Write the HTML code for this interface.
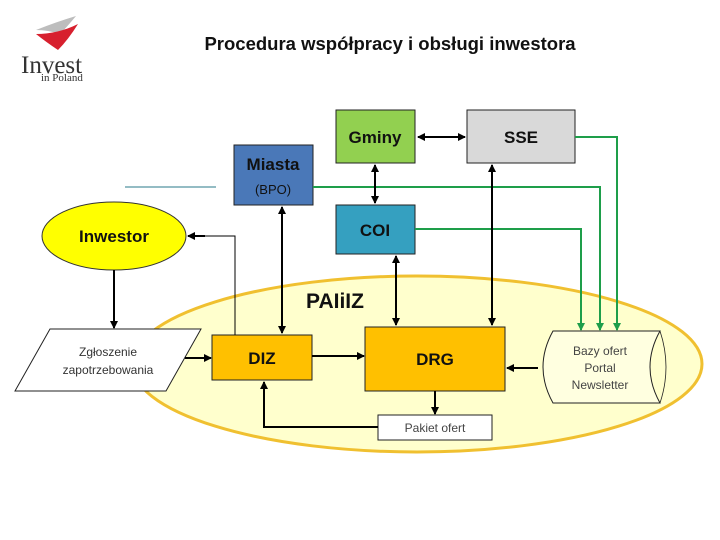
<!DOCTYPE html>
<html><head><meta charset="utf-8"><style>
body{margin:0;background:#fff;}
svg{display:block;font-family:"Liberation Sans",sans-serif;}
</style></head><body>
<svg width="720" height="540" viewBox="0 0 720 540" xmlns="http://www.w3.org/2000/svg">
<defs>
<marker id="a" markerWidth="8" markerHeight="8" refX="7" refY="4" orient="auto-start-reverse" markerUnits="userSpaceOnUse"><path d="M0,0 L8,4 L0,8 z" fill="#000"/></marker>
<marker id="g" markerWidth="8" markerHeight="8" refX="7" refY="4" orient="auto" markerUnits="userSpaceOnUse"><path d="M0,0 L8,4 L0,8 z" fill="#1e9e4a"/></marker>
</defs>
<!-- logo -->
<path d="M36,30 Q56,22 76,16 Q66,28 60,34 Q48,30 36,30z" fill="#bdbdbd"/>
<path d="M36,34 Q58,34 78,24 Q68,40 58,50 Q46,42 36,34z" fill="#d7202e"/>
<text x="21" y="73" font-family="Liberation Serif,serif" font-size="25" fill="#333">Invest</text>
<text x="41" y="81" font-family="Liberation Serif,serif" font-size="11" fill="#333">in Poland</text>
<text x="390" y="50" text-anchor="middle" font-size="18.5" font-weight="bold" fill="#111">Procedura współpracy i obsługi inwestora</text>
<!-- big ellipse -->
<ellipse cx="417" cy="364" rx="285" ry="88" fill="#ffffc4" fill-opacity="0.85" stroke="#f0c030" stroke-width="3"/>
<text x="335" y="308" text-anchor="middle" font-size="21" font-weight="bold" fill="#111">PAIiIZ</text>
<line x1="125" y1="187" x2="216" y2="187" stroke="#2a7a8a" stroke-width="1"/>
<rect x="234" y="145" width="79" height="60" fill="#4a78b8" stroke="#222"/>
<text x="273" y="170" text-anchor="middle" font-size="17" font-weight="bold" fill="#111">Miasta</text>
<text x="273" y="194" text-anchor="middle" font-size="13" fill="#111">(BPO)</text>
<rect x="336" y="110" width="79" height="53" fill="#92d050" stroke="#222"/>
<text x="375" y="143" text-anchor="middle" font-size="17" font-weight="bold" fill="#111">Gminy</text>
<rect x="467" y="110" width="108" height="53" fill="#d9d9d9" stroke="#222"/>
<text x="521" y="143" text-anchor="middle" font-size="17" font-weight="bold" fill="#111">SSE</text>
<rect x="336" y="205" width="79" height="49" fill="#35a0c0" stroke="#222"/>
<text x="375" y="236" text-anchor="middle" font-size="17" font-weight="bold" fill="#111">COI</text>
<ellipse cx="114" cy="236" rx="72" ry="34" fill="#ffff00" stroke="#333"/>
<text x="114" y="242" text-anchor="middle" font-size="17" font-weight="bold" fill="#111">Inwestor</text>
<polygon points="15,391 50,329 201,329 166,391" fill="#fff" stroke="#222"/>
<text x="108" y="356" text-anchor="middle" font-size="12" fill="#333">Zgłoszenie</text>
<text x="108" y="374" text-anchor="middle" font-size="12" fill="#333">zapotrzebowania</text>
<rect x="212" y="335" width="100" height="45" fill="#ffc000" stroke="#222"/>
<text x="262" y="364" text-anchor="middle" font-size="17" font-weight="bold" fill="#111">DIZ</text>
<rect x="365" y="327" width="140" height="64" fill="#ffc000" stroke="#222"/>
<text x="435" y="365" text-anchor="middle" font-size="17" font-weight="bold" fill="#111">DRG</text>
<rect x="378" y="415" width="114" height="25" fill="#fff" stroke="#222"/>
<text x="435" y="432" text-anchor="middle" font-size="12" fill="#444">Pakiet ofert</text>
<path d="M553,331 L660,331 Q640,367 660,403 L553,403 Q533,367 553,331z" fill="#ffffe0" stroke="#222"/>
<path d="M660,331 Q672,367 660,403" fill="none" stroke="#222" stroke-width="0.8"/>
<text x="600" y="355" text-anchor="middle" font-size="12" fill="#444">Bazy ofert</text>
<text x="600" y="372" text-anchor="middle" font-size="12" fill="#444">Portal</text>
<text x="600" y="389" text-anchor="middle" font-size="12" fill="#444">Newsletter</text>
<g stroke="#1e9e4a" stroke-width="2" fill="none">
<polyline points="575,137 617,137 617,330" marker-end="url(#g)"/>
<polyline points="313,187 600,187 600,330" marker-end="url(#g)"/>
<polyline points="415,229 581,229 581,330" marker-end="url(#g)"/>
</g>
<g stroke="#000" stroke-width="2" fill="none">
<line x1="418" y1="137" x2="465" y2="137" marker-start="url(#a)" marker-end="url(#a)"/>
<line x1="375" y1="165" x2="375" y2="203" marker-start="url(#a)" marker-end="url(#a)"/>
<line x1="492" y1="165" x2="492" y2="325" marker-start="url(#a)" marker-end="url(#a)"/>
<line x1="396" y1="256" x2="396" y2="325" marker-start="url(#a)" marker-end="url(#a)"/>
<line x1="282" y1="207" x2="282" y2="333" marker-start="url(#a)" marker-end="url(#a)"/>
<line x1="114" y1="270" x2="114" y2="328" marker-end="url(#a)"/>
<line x1="185" y1="358" x2="211" y2="358" marker-end="url(#a)"/>
<line x1="312" y1="356" x2="364" y2="356" marker-end="url(#a)"/>
<line x1="538" y1="368" x2="507" y2="368" marker-end="url(#a)"/>
<line x1="435" y1="391" x2="435" y2="414" marker-end="url(#a)"/>
<polyline points="378,427 264,427 264,382" marker-end="url(#a)"/>
</g>
<polyline points="235,335 235,236 188,236" stroke="#000" stroke-width="1" fill="none"/>
<line x1="205" y1="236" x2="188" y2="236" stroke="#000" stroke-width="2" marker-end="url(#a)"/>
</svg>
</body></html>
